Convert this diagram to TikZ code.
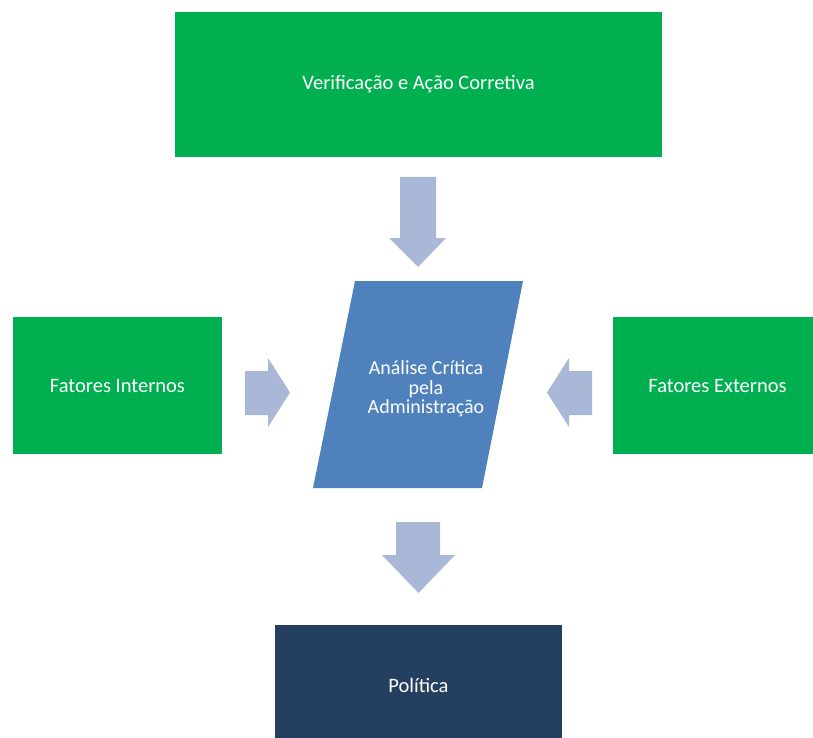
\documentclass[tikz,border=0pt]{standalone}
\usepackage{fontspec}
\setmainfont{Carlito}
\definecolor{boxgreen}{HTML}{00B050}
\definecolor{parblue}{HTML}{4F81BD}
\definecolor{navy}{HTML}{243F60}
\definecolor{arrowgray}{HTML}{A8B8D6}
\begin{document}
\begin{tikzpicture}[x=1pt,y=-1pt,
  box/.style={fill=boxgreen, draw=none, inner sep=0pt, text=white,
    font=\fontsize{20.5}{20}\selectfont, align=center},
  blockarrow/.style={fill=arrowgray, draw=none},
  label/.style={text=white, font=\fontsize{20}{19.5}\selectfont, align=center}]
\useasboundingbox (0,0) rectangle (813,738);
\clip (0,0) rectangle (813,738);
% boxes
\node[box, minimum width=487pt, minimum height=145pt] (verif) at (418.5,84.5) {Verificação e Ação Corretiva};
\node[box, minimum width=209pt, minimum height=137pt] (intern) at (117.5,385.5) {Fatores Internos};
\node[box, minimum width=209pt, minimum height=137pt] (extern) at (717.5,385.5) {Fatores Externos};
\node[box, fill=navy, minimum width=287pt, minimum height=160pt] (pol) at (418.5,705) {};
\node[label, font=\fontsize{20.5}{20}\selectfont] (poltxt) at (418.5,685) {Política};
% parallelogram
\coordinate (ptl) at (355,281);
\coordinate (ptr) at (523,281);
\coordinate (pbr) at (482,488);
\coordinate (pbl) at (313,488);
\fill[parblue] (ptl) -- (ptr) -- (pbr) -- (pbl) -- cycle;
\node[label] (analise) at (426,389) {Análise Crítica\\pela\\Administração};
% block arrows
\fill[blockarrow] (400,177) -- (436,177) -- (436,238) -- (446,238) -- (418,267) -- (389,238) -- (400,238) -- cycle;
\fill[blockarrow] (396,522) -- (440,522) -- (440,555) -- (455,555) -- (418.5,593) -- (382,555) -- (396,555) -- cycle;
\fill[blockarrow] (245,371) -- (268,371) -- (268,358) -- (290,392.5) -- (268,427) -- (268,415) -- (245,415) -- cycle;
\fill[blockarrow] (592,371) -- (569,371) -- (569,358) -- (547,392.5) -- (569,427) -- (569,415) -- (592,415) -- cycle;
\end{tikzpicture}
\end{document}
